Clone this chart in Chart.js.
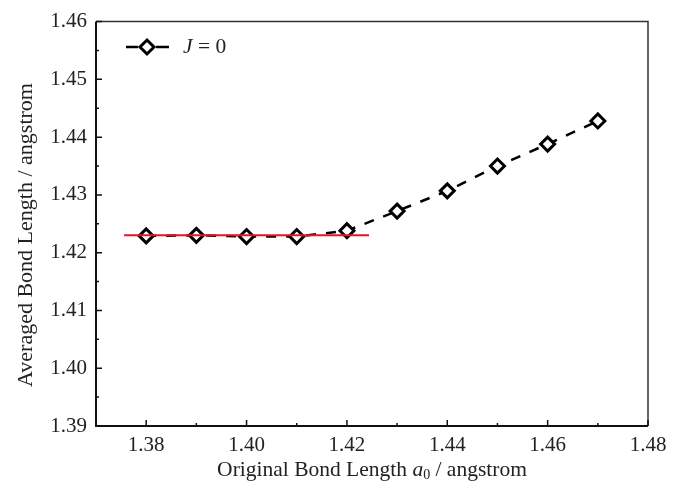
<!DOCTYPE html>
<html>
<head>
<meta charset="utf-8">
<script src="https://cdn.jsdelivr.net/npm/chart.js@4/dist/chart.umd.min.js"></script>
<style>
html,body{margin:0;padding:0;background:#fff;}
#c{display:block;}
</style>
</head>
<body>
<canvas id="c" width="680" height="486"></canvas>
<script>
// ---- data ----
const xValues = [1.38, 1.39, 1.40, 1.41, 1.42, 1.43, 1.44, 1.45, 1.46, 1.47];
const yValues = [1.4229, 1.4230, 1.4228, 1.4228, 1.4238, 1.4272, 1.4307, 1.4350, 1.4388, 1.4428];
const refLineX = [1.3756, 1.4244];
const refLineY = [1.4230, 1.4230];
const xMajorTicks = [1.38, 1.40, 1.42, 1.44, 1.46, 1.48];
const xMinorTicks = [1.39, 1.41, 1.43, 1.45, 1.47];
const yMajorTicks = [1.39, 1.40, 1.41, 1.42, 1.43, 1.44, 1.45, 1.46];
const yMinorTicks = [1.395, 1.405, 1.415, 1.425, 1.435, 1.445, 1.455];
const seriesLabel = 'J = 0';
const xTitleParts = ['Original Bond Length ', 'a', '0', ' / angstrom'];
const yTitle = 'Averaged Bond Length / angstrom';

const FONT = '"Liberation Serif", "Times New Roman", serif';
const TXT = '#222';

const framePlugin = {
  id: 'frame',
  afterDraw(chart) {
    const ctx = chart.ctx;
    const a = chart.chartArea;
    const xs = chart.scales.x, ys = chart.scales.y;
    ctx.save();
    // frame
    ctx.strokeStyle = '#333';
    ctx.lineWidth = 1.5;
    ctx.beginPath();
    ctx.moveTo(a.left, a.top); ctx.lineTo(a.right, a.top); ctx.lineTo(a.right, a.bottom);
    ctx.stroke();
    ctx.strokeStyle = '#111';
    ctx.lineWidth = 2;
    ctx.beginPath();
    ctx.moveTo(a.left, a.top); ctx.lineTo(a.left, a.bottom); ctx.lineTo(a.right, a.bottom);
    ctx.stroke();
    // inward ticks
    ctx.lineWidth = 1.5;
    ctx.beginPath();
    xMajorTicks.forEach(v => { const p = xs.getPixelForValue(v); ctx.moveTo(p, a.bottom); ctx.lineTo(p, a.bottom - 6); });
    xMinorTicks.forEach(v => { const p = xs.getPixelForValue(v); ctx.moveTo(p, a.bottom); ctx.lineTo(p, a.bottom - 3); });
    yMajorTicks.forEach(v => { const p = ys.getPixelForValue(v); ctx.moveTo(a.left, p); ctx.lineTo(a.left + 6, p); });
    yMinorTicks.forEach(v => { const p = ys.getPixelForValue(v); ctx.moveTo(a.left, p); ctx.lineTo(a.left + 3, p); });
    ctx.stroke();

    // x title with italic a and subscript 0
    ctx.fillStyle = TXT;
    ctx.textBaseline = 'alphabetic';
    const fN = '21.5px ' + FONT, fI = 'italic 21.5px ' + FONT, fS = '14px ' + FONT;
    const fonts = [fN, fI, fS, fN];
    const widths = xTitleParts.map((t, i) => { ctx.font = fonts[i]; return ctx.measureText(t).width; });
    const total = widths.reduce((s, w) => s + w, 0);
    let x = (a.left + a.right) / 2 - total / 2;
    const base = 476;
    xTitleParts.forEach((t, i) => {
      ctx.font = fonts[i];
      ctx.fillText(t, x, i === 2 ? base + 3 : base);
      x += widths[i];
    });

    // y title
    ctx.save();
    ctx.translate(26, 235);
    ctx.rotate(-Math.PI / 2);
    ctx.font = '22px ' + FONT;
    ctx.textAlign = 'center';
    ctx.textBaseline = 'middle';
    ctx.fillText(yTitle, 0, 0);
    ctx.restore();

    // legend
    const ly = 47;
    ctx.strokeStyle = '#000';
    ctx.lineWidth = 2.5;
    ctx.beginPath();
    ctx.moveTo(126, ly); ctx.lineTo(138, ly);
    ctx.moveTo(156, ly); ctx.lineTo(169, ly);
    ctx.stroke();
    ctx.lineWidth = 3;
    ctx.fillStyle = '#fff';
    ctx.beginPath();
    ctx.moveTo(147, ly - 7); ctx.lineTo(154, ly); ctx.lineTo(147, ly + 7); ctx.lineTo(140, ly); ctx.closePath();
    ctx.fill(); ctx.stroke();
    ctx.fillStyle = TXT;
    ctx.textBaseline = 'middle';
    ctx.textAlign = 'left';
    ctx.font = fI;
    ctx.fillText('J', 183, ly);
    const jw = ctx.measureText('J').width;
    ctx.font = fN;
    ctx.fillText(' = 0', 183 + jw, ly);
    ctx.restore();
  }
};

new Chart(document.getElementById('c'), {
  type: 'scatter',
  data: {
    datasets: [
      {
        label: seriesLabel,
        data: xValues.map((x, i) => ({ x: x, y: yValues[i] })),
        showLine: true,
        borderColor: '#000',
        borderWidth: 2.5,
        borderDash: [10, 10],
        pointStyle: 'rectRot',
        pointRadius: 7,
        pointBorderWidth: 3,
        pointBackgroundColor: '#fff',
        pointBorderColor: '#000',
        order: 1
      },
      {
        label: 'ref',
        data: refLineX.map((x, i) => ({ x: x, y: refLineY[i] })),
        showLine: true,
        borderColor: '#e8102a',
        borderWidth: 2,
        pointRadius: 0,
        order: 0
      }
    ]
  },
  options: {
    responsive: false,
    devicePixelRatio: 1,
    animation: false,
    layout: { padding: { left: 0, top: 19, right: 32, bottom: 0 } },
    plugins: { legend: { display: false }, tooltip: { enabled: false } },
    scales: {
      x: {
        type: 'linear',
        min: 1.37, max: 1.48,
        afterBuildTicks: s => { s.ticks = xMajorTicks.map(v => ({ value: v })); },
        afterFit: s => { s.height = 60; },
        grid: { display: false, drawTicks: false },
        border: { display: false },
        ticks: {
          padding: 7,
          color: TXT,
          font: { family: FONT, size: 21 },
          maxRotation: 0,
          callback: v => v.toFixed(2)
        }
      },
      y: {
        type: 'linear',
        min: 1.39, max: 1.46,
        afterBuildTicks: s => { s.ticks = yMajorTicks.map(v => ({ value: v })); },
        afterFit: s => { s.width = 96; },
        grid: { display: false, drawTicks: false },
        border: { display: false },
        ticks: {
          padding: 9,
          color: TXT,
          font: { family: FONT, size: 21 },
          callback: v => v.toFixed(2)
        }
      }
    }
  },
  plugins: [framePlugin]
});
</script>
</body>
</html>
